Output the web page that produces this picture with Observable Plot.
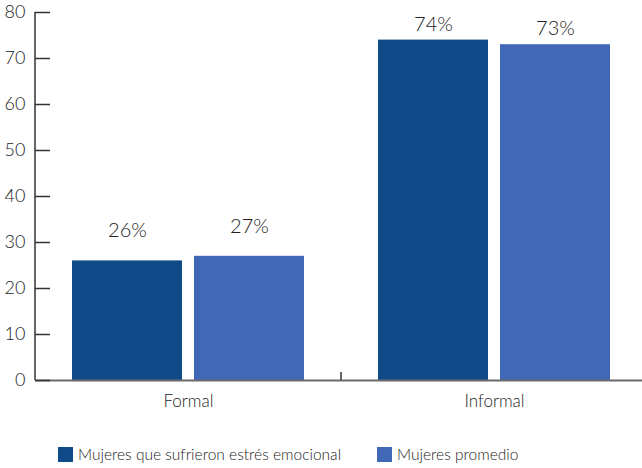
<!DOCTYPE html>
<html><head><meta charset="utf-8">
<script src="https://cdn.jsdelivr.net/npm/d3@7"></script>
<script src="https://cdn.jsdelivr.net/npm/@observablehq/plot@0.6"></script>
<style>
body{margin:0;background:#fff;font-family:Lato,sans-serif;font-weight:300;color:#222;overflow:hidden;}
#chart{height:425px;}
#legend{display:flex;align-items:center;padding-left:58px;padding-top:21px;font-size:15.5px;line-height:17px;}
.item{display:flex;align-items:center;margin-right:36px;}
.sw{width:15px;height:15px;margin-right:5px;}
</style></head><body><div id="chart"></div><div id="legend"></div>
<script>
const groups = ["Formal", "Informal"];
const series = ["Mujeres que sufrieron estrés emocional", "Mujeres promedio"];
const stressedValues = [26, 74];
const averageValues = [27, 73];
const yTicks = [0, 10, 20, 30, 40, 50, 60, 70, 80];
const colors = ["#104a89", "#4167b7"];
const labelOffsets = [-30, -16]; // label lift above bars, per group (style)

const data = groups.flatMap((g, i) => [
  {group: g, series: series[0], value: stressedValues[i]},
  {group: g, series: series[1], value: averageValues[i]}
]);

const plot = Plot.plot({
  width: 642, height: 425,
  marginLeft: 35, marginRight: -5, marginTop: 12, marginBottom: 45,
  style: {fontFamily: "Lato, sans-serif", fontWeight: 300, color: "#222", background: "#fff", overflow: "hidden"},
  fx: {domain: groups, padding: 0, label: null},
  x: {domain: series, paddingInner: 0.098, paddingOuter: 0.303, axis: null},
  y: {domain: [0, 80], axis: null},
  color: {domain: series, range: colors},
  marks: [
    Plot.barY(data, {fx: "group", x: "series", y: "value", fill: "series"}),
    ...groups.map((g, i) => Plot.text(data.filter(d => d.group === g), {
      fx: "group", x: "series", y: "value", text: d => d.value + "%",
      dy: labelOffsets[i], fontSize: 20, fill: "#222"
    })),
    Plot.ruleY([0], {stroke: "#6b6b6b", strokeWidth: 2}),
    Plot.axisY({ticks: yTicks, tickSize: -15, tickPadding: 25, fontSize: 18, stroke: "#333", strokeWidth: 1.5, fill: "#222", label: null}),
    Plot.axisFx({anchor: "bottom", tickSize: 0, tickPadding: 14, fontSize: 17, fill: "#222", label: null})
  ]
});

// axis line and group separator tick, positioned with the plot's own scales
const fx = plot.scale("fx"), y = plot.scale("y");
const svg = d3.select(plot);
const x0 = fx.apply(groups[0]);
svg.append("line").attr("x1", x0).attr("x2", x0)
  .attr("y1", y.apply(yTicks[yTicks.length - 1])).attr("y2", y.apply(0))
  .attr("stroke", "#333").attr("stroke-width", 1.5);
const xb = fx.apply(groups[1]);
svg.append("line").attr("x1", xb).attr("x2", xb)
  .attr("y1", y.apply(0) - 8).attr("y2", y.apply(0))
  .attr("stroke", "#333").attr("stroke-width", 1.5);

document.getElementById("chart").appendChild(plot);

const legend = document.getElementById("legend");
series.forEach((s, i) => {
  const item = document.createElement("div");
  item.className = "item";
  const sw = document.createElement("div");
  sw.className = "sw";
  sw.style.background = colors[i];
  const t = document.createElement("span");
  t.textContent = s;
  item.appendChild(sw); item.appendChild(t);
  legend.appendChild(item);
});
</script></body></html>
